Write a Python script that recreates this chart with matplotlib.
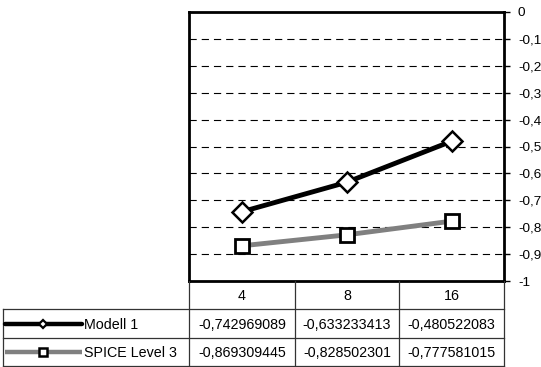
import numpy as np
import matplotlib.pyplot as plt

plt.rcParams['font.family'] = ['Liberation Sans', 'DejaVu Sans']

categories = ['4', '8', '16']
series_names = ['Modell 1', 'SPICE Level 3']
modell1 = [-0.742969089, -0.633233413, -0.480522083]
spice3 = [-0.869309445, -0.828502301, -0.777581015]
yticks = [0, -0.1, -0.2, -0.3, -0.4, -0.5, -0.6, -0.7, -0.8, -0.9, -1]

W, H = 541, 367
fig = plt.figure(figsize=(W / 100, H / 100), dpi=100)

# pixel box helper -> figure fraction
def box(x0, y0, x1, y1):
    return [x0 / W, 1 - y1 / H, (x1 - x0) / W, (y1 - y0) / H]

ax = fig.add_axes(box(189, 12, 504, 281))
xs = np.arange(len(categories)) + 0.5
ax.plot(xs, modell1, color='black', lw=3.5, marker='D', ms=10.5,
        mfc='white', mec='black', mew=1.8, zorder=3)
ax.plot(xs, spice3, color='#808080', lw=3.5, marker='s', ms=10,
        mfc='white', mec='black', mew=2, zorder=3)
ax.set_xlim(0, len(categories))
ax.set_ylim(-1, 0)
ax.set_xticks([])
ax.yaxis.tick_right()
ax.set_yticks(yticks)
ax.set_yticklabels([('%g' % v).replace('.', ',') for v in yticks], fontsize=9.7)
ax.tick_params(axis='y', length=4, width=1, pad=6, direction='out')
for v in yticks[1:-1]:
    ax.axhline(v, color='black', lw=0.8, ls=(0, (6.5, 4.5)), zorder=1)
for s in ax.spines.values():
    s.set_linewidth(2)

# data table below the plot
tx = fig.add_axes(box(0, 281, 541, 367))
tx.set_xlim(0, W)
tx.set_ylim(367, 281)
tx.axis('off')
col_x = [189, 295, 399, 504]
row_y = [281, 309, 338, 366]
lc = '#333333'
for x in col_x:
    tx.plot([x, x], [row_y[0], row_y[-1]], color=lc, lw=0.9)
tx.plot([3, 3], [row_y[1], row_y[-1]], color=lc, lw=0.9)
for y in row_y[1:]:
    tx.plot([3, col_x[-1]], [y, y], color=lc, lw=0.9)

for i, c in enumerate(categories):
    cx = (col_x[i] + col_x[i + 1]) / 2
    tx.text(cx, (row_y[0] + row_y[1]) / 2 + 1, c, ha='center', va='center', fontsize=10.3)

styles = [dict(color='black', marker='D', ms=4.5, mew=1.6, cap='round'),
          dict(color='#808080', marker='s', ms=5.5, mew=1.8, cap='butt')]
for r, (name, vals, st) in enumerate(zip(series_names, [modell1, spice3], styles)):
    cy = (row_y[r + 1] + row_y[r + 2]) / 2 + 1
    tx.plot([5, 82], [cy - 1, cy - 1], color=st['color'], lw=3.2,
            solid_capstyle=st['cap'])
    tx.plot([43], [cy - 1], marker=st['marker'], ms=st['ms'], mfc='white',
            mec='black', mew=st['mew'])
    tx.text(84, cy, name, ha='left', va='center', fontsize=10.3)
    for i, v in enumerate(vals):
        cx = (col_x[i] + col_x[i + 1]) / 2
        tx.text(cx, cy, ('%.9f' % v).replace('.', ','), ha='center', va='center', fontsize=10.3)

fig.savefig('out.png', dpi=100)
